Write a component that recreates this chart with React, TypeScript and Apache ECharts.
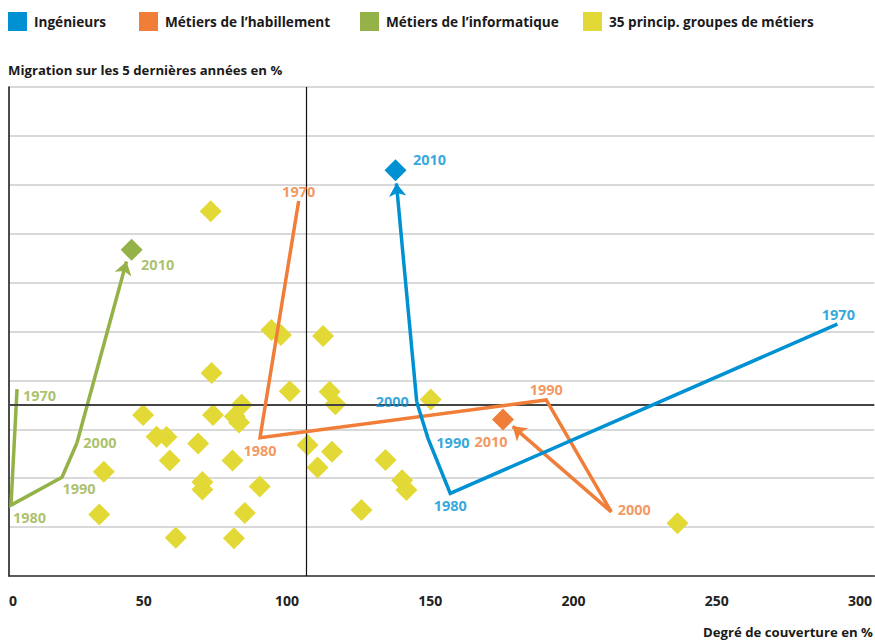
import React, { useEffect, useRef } from "react";
import * as echarts from "echarts";

// ---------- data ----------
const YEARS = ["1970", "1980", "1990", "2000", "2010"];

// Ingénieurs (1970 → 2010)
const ING_X = [292.1, 157.0, 149.2, 145.3, 137.9];
const ING_Y = [5.15, 1.69, 2.82, 3.56, 8.3];
const ING_TIP = [138.2, 8.03];

// Métiers de l'habillement
const HAB_X = [104.1, 90.6, 190.5, 213.2, 175.4];
const HAB_Y = [7.67, 2.83, 3.6, 1.31, 3.2];
const HAB_TIP = [178.8, 3.06];

// Métiers de l'informatique
const INF_X = [5.8, 3.7, 21.5, 26.7, 45.8];
const INF_Y = [3.82, 1.45, 2.02, 2.72, 6.67];
const INF_TIP = [44.0, 6.43];

// 35 principaux groupes de métiers
const GROUP_X = [
  73.4, 94.6, 97.9, 112.6, 73.7, 101.0, 114.9, 116.9, 49.8, 74.2, 84.2, 81.8,
  83.3, 54.5, 58.0, 69.0, 59.1, 81.0, 107.2, 115.7, 110.7, 36.1, 70.5, 70.5,
  90.5, 34.5, 85.3, 61.2, 81.5, 126.0, 150.2, 134.4, 140.2, 141.7, 236.3,
];
const GROUP_Y = [
  7.46, 5.03, 4.93, 4.91, 4.15, 3.78, 3.77, 3.51, 3.29, 3.29, 3.5, 3.26, 3.14,
  2.85, 2.84, 2.71, 2.36, 2.36, 2.68, 2.54, 2.22, 2.13, 1.92, 1.77, 1.83, 1.26,
  1.29, 0.78, 0.77, 1.35, 3.61, 2.37, 1.96, 1.76, 1.08,
];

// axes
const X_MIN = 3;
const X_MAX = 305;
const X_TICKS = [50, 100, 150, 200, 250, 300];
const X_ZERO_LABEL = "0";
const Y_MIN = 0;
const Y_MAX = 10;
const Y_STEP = 1;
const REF_X = 106.8;
const REF_Y = 3.5;

const NAMES = [
  "Ingénieurs",
  "Métiers de l’habillement",
  "Métiers de l’informatique",
  "35 princip. groupes de métiers",
];

// ---------- layout / style ----------
const COLORS = {
  ing: "#0091D3",
  hab: "#F07D38",
  inf: "#95B249",
  grp: "#E3D936",
};
const LABEL_OFFSETS = {
  ing: [[1, -10], [0, 12], [25, 4], [-24.5, 0], [34, -11]],
  hab: [[0, -9], [0, 13], [0, -10], [23, -2], [-12, 22]],
  inf: [[22.5, 6], [18.5, 12], [17, 11], [23, 0], [26, 15]],
};
const FONT = "'Open Sans', 'DejaVu Sans', sans-serif";
const LEGEND_LEFT = [8, 139, 360, 583];

function pathSeries(
  name: string,
  color: string,
  xs: number[],
  ys: number[],
  tip: number[],
  offsets: number[][],
  z: number
): any[] {
  const pts = xs.map((x, i) => [x, ys[i]]);
  return [
    {
      type: "line",
      name,
      data: pts.slice(0, 4),
      symbol: "none",
      lineStyle: { color, width: 3.5, join: "miter" },
      itemStyle: { color },
      z,
      silent: true,
    },
    {
      type: "lines",
      name,
      coordinateSystem: "cartesian2d",
      data: [{ coords: [pts[3], tip] }],
      symbol: ["none", "arrow"],
      symbolSize: 13,
      lineStyle: { color, width: 3.5, opacity: 1, curveness: 0 },
      itemStyle: { color },
      z,
      silent: true,
    },
    {
      type: "scatter",
      name,
      data: [pts[4]],
      symbol: "diamond",
      symbolSize: 22,
      itemStyle: { color, opacity: 1 },
      z: z + 1,
      silent: true,
    },
    {
      type: "scatter",
      name,
      data: pts.map((p, i) => ({ value: p, label: { offset: offsets[i] } })),
      symbolSize: 0,
      itemStyle: { color: "rgba(0,0,0,0)" },
      label: {
        show: true,
        position: "inside",
        formatter: (p: any) => YEARS[p.dataIndex],
        color,
        fontSize: 14.5,
        fontWeight: 700,
        fontFamily: FONT,
      },
      z: z + 2,
      silent: true,
    },
  ];
}

export default function App() {
  const ref = useRef<HTMLDivElement>(null);

  useEffect(() => {
    if (!ref.current) return;
    const chart = echarts.init(ref.current, null, { renderer: "svg" });
    const legendColors = [COLORS.ing, COLORS.hab, COLORS.inf, COLORS.grp];

    const option: any = {
      animation: false,
      backgroundColor: "#ffffff",
      textStyle: { fontFamily: FONT },
      title: [
        {
          text: "Migration sur les 5 dernières années en %",
          left: 8,
          top: 62,
          padding: 0,
          textStyle: {
            fontSize: 13.2,
            fontWeight: 700,
            color: "#1a1a1a",
            fontFamily: FONT,
            lineHeight: 16,
          },
        },
        {
          text: "Degré de couverture en %",
          right: 2,
          top: 624,
          padding: 0,
          textStyle: {
            fontSize: 13.2,
            fontWeight: 700,
            color: "#1a1a1a",
            fontFamily: FONT,
            lineHeight: 16,
          },
        },
      ],
      legend: NAMES.map((n, i) => ({
        data: [{ name: n, icon: "rect", itemStyle: { color: legendColors[i] } }],
        left: LEGEND_LEFT[i],
        top: 12,
        padding: 0,
        itemWidth: 19,
        itemHeight: 19,
        itemGap: 0,
        selectedMode: false,
        textStyle: {
          fontSize: 13.6,
          fontWeight: 700,
          color: "#1a1a1a",
          fontFamily: FONT,
          padding: [0, 0, 0, 2],
        },
      })),
      grid: { left: 9, right: 0, top: 87, bottom: 64, containLabel: false },
      xAxis: {
        type: "value",
        min: X_MIN,
        max: X_MAX,
        axisLine: { show: true, lineStyle: { color: "#333333", width: 1.5 } },
        axisTick: { show: false },
        splitLine: { show: false },
        axisLabel: {
          customValues: [X_MIN, ...X_TICKS],
          formatter: (v: number) => (v === X_MIN ? X_ZERO_LABEL : String(v)),
          alignMinLabel: "left",
          fontSize: 14,
          fontWeight: 700,
          color: "#222222",
          fontFamily: FONT,
          margin: 17,
        },
      },
      yAxis: {
        type: "value",
        min: Y_MIN,
        max: Y_MAX,
        interval: Y_STEP,
        axisLine: { show: true, lineStyle: { color: "#111111", width: 1.5 } },
        axisTick: { show: false },
        axisLabel: { show: false },
        splitLine: { show: true, lineStyle: { color: "#cccccc", width: 1.5 } },
      },
      series: [
        {
          type: "scatter",
          name: NAMES[3],
          data: GROUP_X.map((x, i) => [x, GROUP_Y[i]]),
          symbol: "diamond",
          symbolSize: 22,
          itemStyle: { color: COLORS.grp, opacity: 1 },
          z: 2,
          silent: true,
        },
        {
          type: "line",
          name: "ref",
          data: [],
          z: 3,
          silent: true,
          markLine: {
            silent: true,
            symbol: "none",
            label: { show: false },
            animation: false,
            data: [
              { xAxis: REF_X, lineStyle: { color: "#111111", width: 1.2, type: "solid" } },
              { yAxis: REF_Y, lineStyle: { color: "#444444", width: 2, type: "solid" } },
            ],
          },
        },
        ...pathSeries(NAMES[2], COLORS.inf, INF_X, INF_Y, INF_TIP, LABEL_OFFSETS.inf, 4),
        ...pathSeries(NAMES[1], COLORS.hab, HAB_X, HAB_Y, HAB_TIP, LABEL_OFFSETS.hab, 7),
        ...pathSeries(NAMES[0], COLORS.ing, ING_X, ING_Y, ING_TIP, LABEL_OFFSETS.ing, 10),
      ],
    };
    chart.setOption(option);
    return () => chart.dispose();
  }, []);

  return (
    <div
      ref={ref}
      style={{ position: "fixed", left: 0, top: 0, width: 875, height: 640 }}
    />
  );
}
